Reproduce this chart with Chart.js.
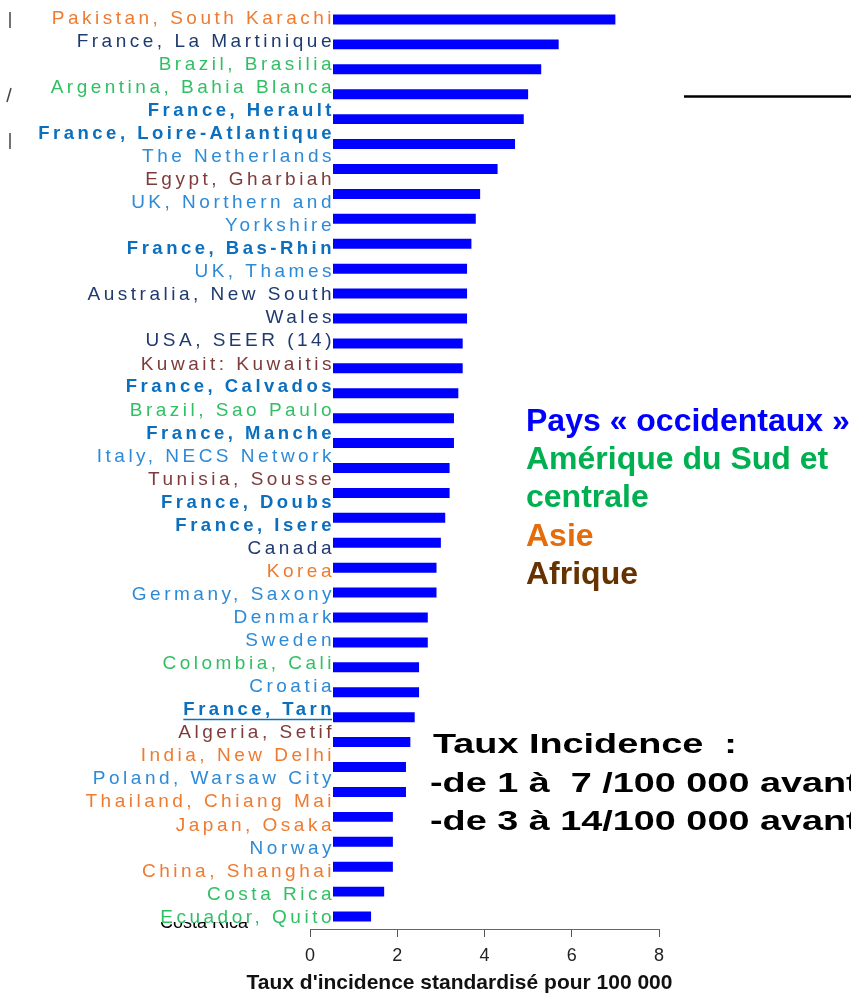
<!DOCTYPE html>
<html>
<head>
<meta charset="utf-8">
<script src="https://cdn.jsdelivr.net/npm/chart.js@4.4.1/dist/chart.umd.min.js"></script>
<style>
  html, body { margin: 0; padding: 0; background: #fff; }
  #wrap { width: 851px; height: 994px; }
</style>
</head>
<body>
<div id="wrap"><canvas id="incidence"></canvas></div>
<script>
// label list as it appears on the left (two-line names as arrays)
var countries = [
  'Pakistan, South Karachi', 'France, La Martinique', 'Brazil, Brasilia',
  'Argentina, Bahia Blanca', 'France, Herault', 'France, Loire-Atlantique',
  'The Netherlands', 'Egypt, Gharbiah', ['UK, Northern and', 'Yorkshire'],
  'France, Bas-Rhin', 'UK, Thames', ['Australia, New South', 'Wales'],
  'USA, SEER (14)', 'Kuwait: Kuwaitis', 'France, Calvados', 'Brazil, Sao Paulo',
  'France, Manche', 'Italy, NECS Network', 'Tunisia, Sousse', 'France, Doubs',
  'France, Isere', 'Canada', 'Korea', 'Germany, Saxony', 'Denmark', 'Sweden',
  'Colombia, Cali', 'Croatia', 'France, Tarn', 'Algeria, Setif',
  'India, New Delhi', 'Poland, Warsaw City', 'Thailand, Chiang Mai',
  'Japan, Osaka', 'Norway', 'China, Shanghai', 'Costa Rica', 'Ecuador, Quito'
];
var regions = [
  'asie', 'occident', 'amerique', 'amerique', 'france', 'france',
  'europe', 'afrique', 'europe', 'france', 'europe', 'occident',
  'occident', 'afrique', 'france', 'amerique', 'france', 'europe',
  'afrique', 'france', 'france', 'occident', 'asie', 'europe', 'europe',
  'europe', 'amerique', 'europe', 'france', 'afrique', 'asie', 'europe',
  'asie', 'asie', 'europe', 'asie', 'amerique', 'amerique'
];
var underlined = ['France, Tarn'];

// bars (the original bar chart stops at Costa Rica)
var barValues = [7.0, 5.7, 5.3, 5.0, 4.9, 4.7, 4.3, 3.9, 3.8, 3.7, 3.6, 3.6, 3.6,
  3.5, 3.5, 3.4, 3.3, 3.3, 3.2, 3.2, 3.1, 3.0, 2.9, 2.9, 2.7, 2.7, 2.5, 2.5,
  2.4, 2.3, 2.2, 2.2, 1.9, 1.9, 1.9, 1.7, 1.4];
var xTicks = [0, 2, 4, 6, 8];
var xTitle = "Taux d'incidence standardisé pour 100 000";

var legendTexts = ['Pays « occidentaux »', 'Amérique du Sud et', 'centrale', 'Asie', 'Afrique'];
var legendGroups = ['occident', 'amerique', 'amerique', 'asie', 'afrique'];
var noteLines = ['Taux Incidence  :', '-de 1 à  7 /100 000 avant', '-de 3 à 14/100 000 avant'];

var labelColors = {
  asie: '#ee7b30', amerique: '#30bf64', afrique: '#7d3b3b',
  europe: '#2d8ad6', france: '#0b6fbe', occident: '#1f3a6e'
};
var legendColors = { occident: '#0000ff', amerique: '#00b050', asie: '#e46c0a', afrique: '#663300' };
var FONT = '"Liberation Sans", Arial, sans-serif';
var SPACING = '3.5px';

var labelLines = [], lineRegion = [];
countries.forEach(function (c, i) {
  [].concat(c).forEach(function (l) { labelLines.push(l); lineRegion.push(regions[i]); });
});
var barCountries = countries.slice(0, barValues.length).map(function (c) {
  return [].concat(c).join(' ');
});

Chart.defaults.font.family = FONT;

var overlay = {
  id: 'overlay',
  beforeDraw: function (c) { c.ctx.letterSpacing = '0px'; },
  afterDatasetsDraw: function (c) {
    var g = c.ctx;
    g.save();
    g.fillStyle = '#000';
    g.font = '18px ' + FONT;
    g.fillText('Costa Rica', 160, 928);
    // pasted label picture hides the start of the bars
    g.fillStyle = '#fff';
    g.fillRect(0, 0, 333, 922);
    // bits of older text peeking out on the left
    g.strokeStyle = '#444';
    g.lineWidth = 1.5;
    g.beginPath();
    g.moveTo(10, 12); g.lineTo(10, 28);
    g.moveTo(11, 88); g.lineTo(7, 102);
    g.moveTo(10, 133); g.lineTo(10, 149);
    g.stroke();
    g.restore();
    g.letterSpacing = SPACING;
  },
  afterDraw: function (c) {
    var g = c.ctx;
    g.letterSpacing = '0px';
    g.save();
    var yl = c.scales.yl;
    underlined.forEach(function (name) {
      var i = labelLines.indexOf(name);
      g.font = 'bold 18.5px ' + FONT;
      g.letterSpacing = SPACING;
      var w = g.measureText(name).width;
      g.letterSpacing = '0px';
      var right = yl.right + 25;
      var y = yl.getPixelForTick(i) + 9.5;
      g.strokeStyle = labelColors.france;
      g.lineWidth = 1.5;
      g.beginPath(); g.moveTo(right - w, y); g.lineTo(right - 3, y); g.stroke();
    });

    // axis title, wider than the axis itself
    g.font = 'bold 21px ' + FONT;
    g.fillStyle = '#111';
    g.textAlign = 'center';
    g.textBaseline = 'middle';
    g.fillText(xTitle, 459.5, 983);

    g.textAlign = 'left';
    g.textBaseline = 'alphabetic';
    g.font = 'bold 32px ' + FONT;
    legendTexts.forEach(function (t, i) {
      g.fillStyle = legendColors[legendGroups[i]];
      g.fillText(t, 526, 431 + i * 38.2);
    });

    g.font = 'bold 27px ' + FONT;
    g.fillStyle = '#000';
    noteLines.forEach(function (t, i) {
      g.save();
      g.translate(i === 0 ? 433 : 430, 753 + i * 38.5);
      g.scale(1.4, 1);
      g.fillText(t, 0, 0);
      g.restore();
    });

    g.strokeStyle = '#000';
    g.lineWidth = 2.5;
    g.beginPath(); g.moveTo(684, 96.5); g.lineTo(851, 96.5); g.stroke();
    g.restore();
  }
};

var ctx = document.getElementById('incidence').getContext('2d');
var chart = new Chart(ctx, {
  type: 'bar',
  data: {
    labels: barCountries,
    datasets: [{
      label: 'Taux',
      data: barValues,
      backgroundColor: '#0000ff',
      borderWidth: 0,
      categoryPercentage: 0.4,
      barPercentage: 1
    }]
  },
  options: {
    indexAxis: 'y',
    responsive: true,
    maintainAspectRatio: false,
    animation: false,
    layout: { padding: { top: 7, right: 192, bottom: 0, left: 0 } },
    plugins: { legend: { display: false } },
    scales: {
      x: {
        min: 0,
        max: 8,
        afterBuildTicks: function (s) { s.ticks = xTicks.map(function (v) { return { value: v }; }); },
        afterFit: function (s) { s.height = 65; },
        grid: { display: true, drawOnChartArea: false, drawTicks: true, tickLength: 8, color: '#555' },
        border: { display: true, color: '#666', width: 1 },
        ticks: { color: '#222', font: { size: 18 }, padding: 8 },
        title: { display: false }
      },
      y: { display: false, offset: true },
      yl: {
        type: 'category',
        position: 'left',
        labels: labelLines,
        offset: true,
        afterFit: function (s) {
          s.width = 310;
          // labels run a little past the axis box, do not clip them
          s._computeLabelArea = function () {};
        },
        grid: { display: false, drawTicks: false },
        border: { display: false },
        ticks: {
          autoSkip: false,
          padding: -25,
          z: 1,
          color: function (c) { return labelColors[lineRegion[c.index]]; },
          font: function (c) {
            var fr = lineRegion[c.index] === 'france';
            return { size: fr ? 18.5 : 19, weight: fr ? 'bold' : 'normal' };
          }
        }
      }
    }
  },
  plugins: [overlay]
});
</script>
</body>
</html>
